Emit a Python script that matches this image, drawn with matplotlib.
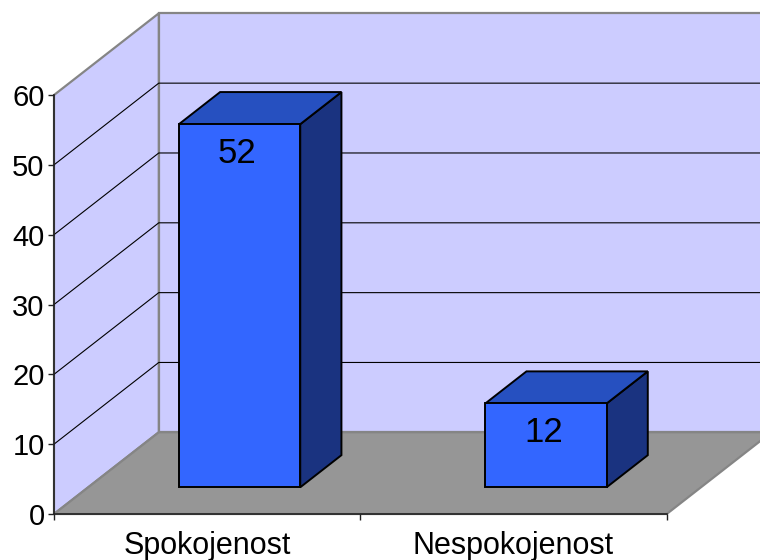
import matplotlib.pyplot as plt
from matplotlib.patches import Polygon

plt.rcParams["font.family"] = ["Liberation Sans", "DejaVu Sans"]

categories = ["Spokojenost", "Nespokojenost"]
values = [52, 12]
y_ticks = [0, 10, 20, 30, 40, 50, 60]

# colours of the 3D box
WALL = "#CCCCFF"
FLOOR = "#969696"
EDGE = "#858585"
BAR_FRONT = "#3366FF"
BAR_TOP = "#2650C0"
BAR_SIDE = "#1A3380"

# depth of the box in data units (x in categories, y in values)
DX = 0.342
DY = 11.7
Z0, Z1 = 0.327, 0.72
HALF_W = 0.198


def proj(x, y, z):
    return (x + z * DX, y + z * DY)


def face(ax, pts, fc, ec="black", lw=1.4, zorder=3):
    ax.add_patch(Polygon([proj(*p) for p in pts], closed=True, facecolor=fc,
                         edgecolor=ec, linewidth=lw, joinstyle="miter", zorder=zorder))


fig = plt.figure(figsize=(7.6, 5.6), dpi=100)
ax = fig.add_axes([0, 0, 1, 1])
ax.patch.set_visible(False)

n = len(categories)
ymax = y_ticks[-1]

# walls and floor
face(ax, [(0, 0, 1), (n, 0, 1), (n, ymax, 1), (0, ymax, 1)], WALL, EDGE, 1.6, 0.5)
face(ax, [(0, 0, 0), (0, ymax, 0), (0, ymax, 1), (0, 0, 1)], WALL, EDGE, 1.6, 0.5)
face(ax, [(0, 0, 0), (n, 0, 0), (n, 0, 1), (0, 0, 1)], FLOOR, EDGE, 1.6, 0.6)

# gridlines across the left and back walls
for v in y_ticks[1:-1]:
    xs, ys = zip(proj(0, v, 0), proj(0, v, 1), proj(n, v, 1))
    ax.plot(xs, ys, color="black", linewidth=0.8, zorder=0.8)

# bars
for i, v in enumerate(values):
    x0, x1 = i + 0.5 - HALF_W - 0.006, i + 0.5 + HALF_W - 0.006
    face(ax, [(x1, 0, Z0), (x1, 0, Z1), (x1, v, Z1), (x1, v, Z0)], BAR_SIDE)
    face(ax, [(x0, v, Z0), (x1, v, Z0), (x1, v, Z1), (x0, v, Z1)], BAR_TOP)
    face(ax, [(x0, 0, Z0), (x1, 0, Z0), (x1, v, Z0), (x0, v, Z0)], BAR_FRONT)
    ax.annotate(str(v), proj(i + 0.5, v, Z0), xytext=(-4, -29),
                textcoords="offset pixels", ha="center", va="center",
                fontsize=25, color="black", zorder=5)

ax.set_xlim(-54 / 306.35, (760 - 54) / 306.35)
ax.set_ylim(-46 / 6.983, 514 / 6.983)

for side in ("top", "right"):
    ax.spines[side].set_visible(False)
for side in ("left", "bottom"):
    ax.spines[side].set_position(("data", 0))
    ax.spines[side].set_color("#222222")
    ax.spines[side].set_linewidth(1.2)
    ax.spines[side].set_zorder(4)
ax.spines["left"].set_bounds(0, ymax)
ax.spines["bottom"].set_bounds(0, n)

ax.set_yticks(y_ticks)
ax.tick_params(axis="y", direction="out", length=4.3, width=1, pad=2.5,
               labelsize=21, colors="#222222", labelcolor="black")
ax.set_xticks(range(n + 1))
ax.set_xticklabels([])
ax.set_xticks([i + 0.5 for i in range(n)], minor=True)
ax.set_xticklabels(categories, minor=True)
ax.tick_params(axis="x", which="major", direction="out", length=4.3, width=1,
               colors="#222222")
ax.tick_params(axis="x", which="minor", length=0, pad=12.5, labelsize=22)

fig.savefig("out.png", dpi=100)
